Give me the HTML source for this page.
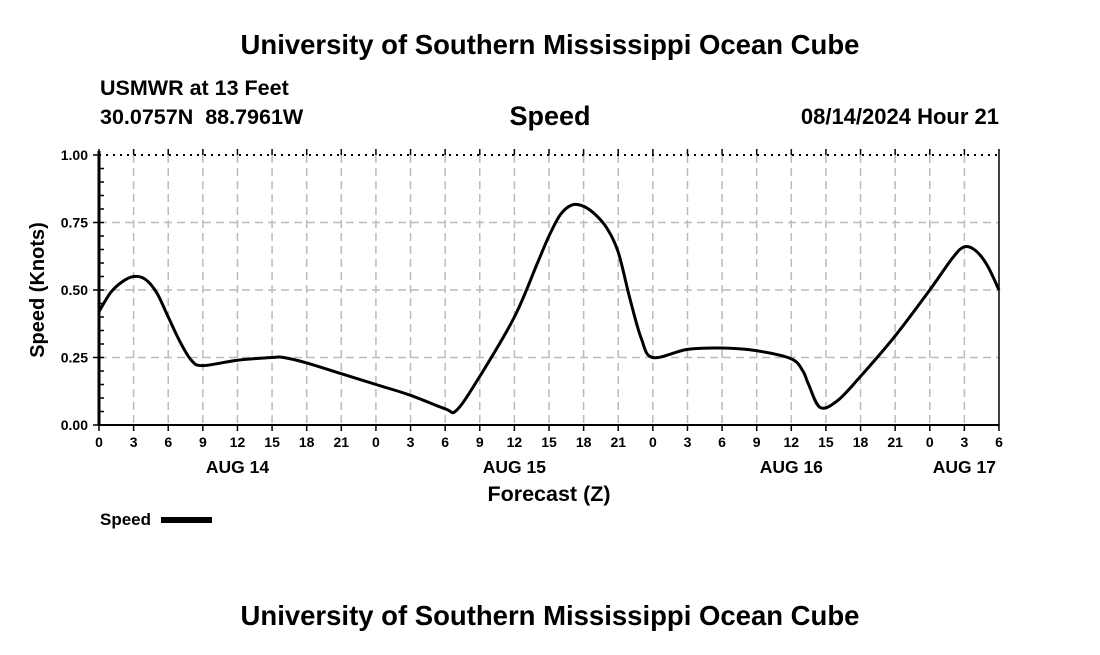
<!DOCTYPE html>
<html><head><meta charset="utf-8"><style>
body{margin:0;background:#fff;}
svg text{font-family:"Liberation Sans",Arial,sans-serif;font-weight:bold;fill:#000;white-space:pre;}
</style></head><body>
<svg width="1100" height="650" xmlns="http://www.w3.org/2000/svg">
<text x="550" y="54" font-size="27.5" text-anchor="middle">University of Southern Mississippi Ocean Cube</text>
<text x="100" y="95" font-size="21.5">USMWR at 13 Feet</text>
<text x="100" y="124" font-size="21.5" xml:space="preserve">30.0757N  88.7961W</text>
<text x="550" y="125" font-size="27" text-anchor="middle">Speed</text>
<text x="999" y="124" font-size="22" text-anchor="end">08/14/2024 Hour 21</text>
<g id="grid"></g>
<g id="axes"></g>
<path id="line" fill="none" stroke="#000" stroke-width="3"/>
<text x="44" y="290" font-size="20" text-anchor="middle" transform="rotate(-90 44 290)">Speed (Knots)</text>
<text x="549" y="501" font-size="21.5" text-anchor="middle">Forecast (Z)</text>
<g>
<text x="100" y="525" font-size="17">Speed</text>
<rect x="161" y="517" width="51" height="6" fill="#000"/>
</g>
<text x="550" y="625" font-size="27.5" text-anchor="middle">University of Southern Mississippi Ocean Cube</text>
</svg>
<script>
const hours=[0,1,2,3,4,5,6,7,8,9,12,15,16,18,21,24,27,30,31,33,36,38,39,40,41,42,43,44,45,46,47,48,51,54,57,60,61,61.5,62.5,64,66,69,72,74,75,76,77,78];
const speeds=[0.42,0.49,0.53,0.55,0.54,0.49,0.40,0.31,0.24,0.22,0.24,0.25,0.25,0.23,0.19,0.15,0.11,0.06,0.055,0.18,0.40,0.60,0.70,0.78,0.815,0.81,0.78,0.73,0.64,0.47,0.32,0.25,0.28,0.285,0.275,0.245,0.20,0.15,0.065,0.09,0.18,0.33,0.50,0.62,0.66,0.645,0.59,0.50];
const yTicks=[0,0.25,0.5,0.75,1.0];
const yTickLabels=["0.00","0.25","0.50","0.75","1.00"];
const dayLabels=["AUG 14","AUG 15","AUG 16","AUG 17"];
const X0=99,X1=999,Y0=425,Y1=155,HMAX=78;
const sx=h=>X0+(X1-X0)*h/HMAX, sy=v=>Y0-(Y0-Y1)*v;
const NS="http://www.w3.org/2000/svg";
const grid=document.getElementById('grid'), axes=document.getElementById('axes');
function mk(tag,attrs,parent){const e=document.createElementNS(NS,tag);for(const k in attrs)e.setAttribute(k,attrs[k]);parent.appendChild(e);return e;}
for(let h=3;h<HMAX;h+=3){
 const l=mk('line',{x1:sx(h),x2:sx(h),y1:Y1,y2:Y0,stroke:'#bbb','stroke-width':1.5,'stroke-dasharray':'8,5'},grid);
 
 
}
yTicks.forEach((v,i)=>{
 if(v>0&&v<1){const l=mk('line',{x1:X0,x2:X1,y1:sy(v),y2:sy(v),stroke:'#bbb','stroke-width':1.5,'stroke-dasharray':'8,5'},grid);
 
 }
 mk('line',{x1:X0-6,x2:X0,y1:sy(v),y2:sy(v),stroke:'#000','stroke-width':1.5},axes);
 const t=mk('text',{x:X0-11,y:sy(v)+5,'font-size':14,'text-anchor':'end'},axes);t.textContent=yTickLabels[i];
 
 
});
for(let v=0.05;v<1;v+=0.05){mk('line',{x1:X0,x2:X0+5,y1:sy(v),y2:sy(v),stroke:'#000','stroke-width':1.5},axes);}
mk('line',{x1:X0,x2:X1,y1:Y1,y2:Y1,stroke:'#000','stroke-width':2,'stroke-dasharray':'2,5'},axes);
mk('line',{x1:X1,x2:X1,y1:Y1,y2:Y0,stroke:'#000','stroke-width':1.5},axes);
mk('line',{x1:X0,x2:X0,y1:Y1-4,y2:Y0,stroke:'#000','stroke-width':3},axes);
mk('line',{x1:X0,x2:X1,y1:Y0,y2:Y0,stroke:'#000','stroke-width':2},axes);
for(let h=0;h<=HMAX;h+=3){
 mk('line',{x1:sx(h),x2:sx(h),y1:Y0,y2:Y0+6,stroke:'#000','stroke-width':1.5},axes);
 mk('line',{x1:sx(h),x2:sx(h),y1:Y1-6,y2:Y1,stroke:'#000','stroke-width':1.5},axes);
 const t=mk('text',{x:sx(h),y:Y0+22,'font-size':14,'text-anchor':'middle'},axes);t.textContent=String(h%24);
 
 
}
dayLabels.forEach((d,i)=>{
 const t=mk('text',{x:sx(i==3?75:i*24+12),y:Y0+48,'font-size':17.5,'text-anchor':'middle'},axes);
 t.textContent=d;
 
 
});
const P=hours.map((h,i)=>[sx(h),sy(speeds[i])]);
let d=`M${P[0][0]},${P[0][1]}`;
for(let i=0;i<P.length-1;i++){
 const p0=P[Math.max(0,i-1)],p1=P[i],p2=P[i+1],p3=P[Math.min(P.length-1,i+2)];
 const c1=[p1[0]+(p2[0]-p0[0])/6,p1[1]+(p2[1]-p0[1])/6];
 const c2=[p2[0]-(p3[0]-p1[0])/6,p2[1]-(p3[1]-p1[1])/6];
 d+=` C${c1[0]},${c1[1]} ${c2[0]},${c2[1]} ${p2[0]},${p2[1]}`;
}
document.getElementById('line').setAttribute('d',d);
</script>
</body></html>
